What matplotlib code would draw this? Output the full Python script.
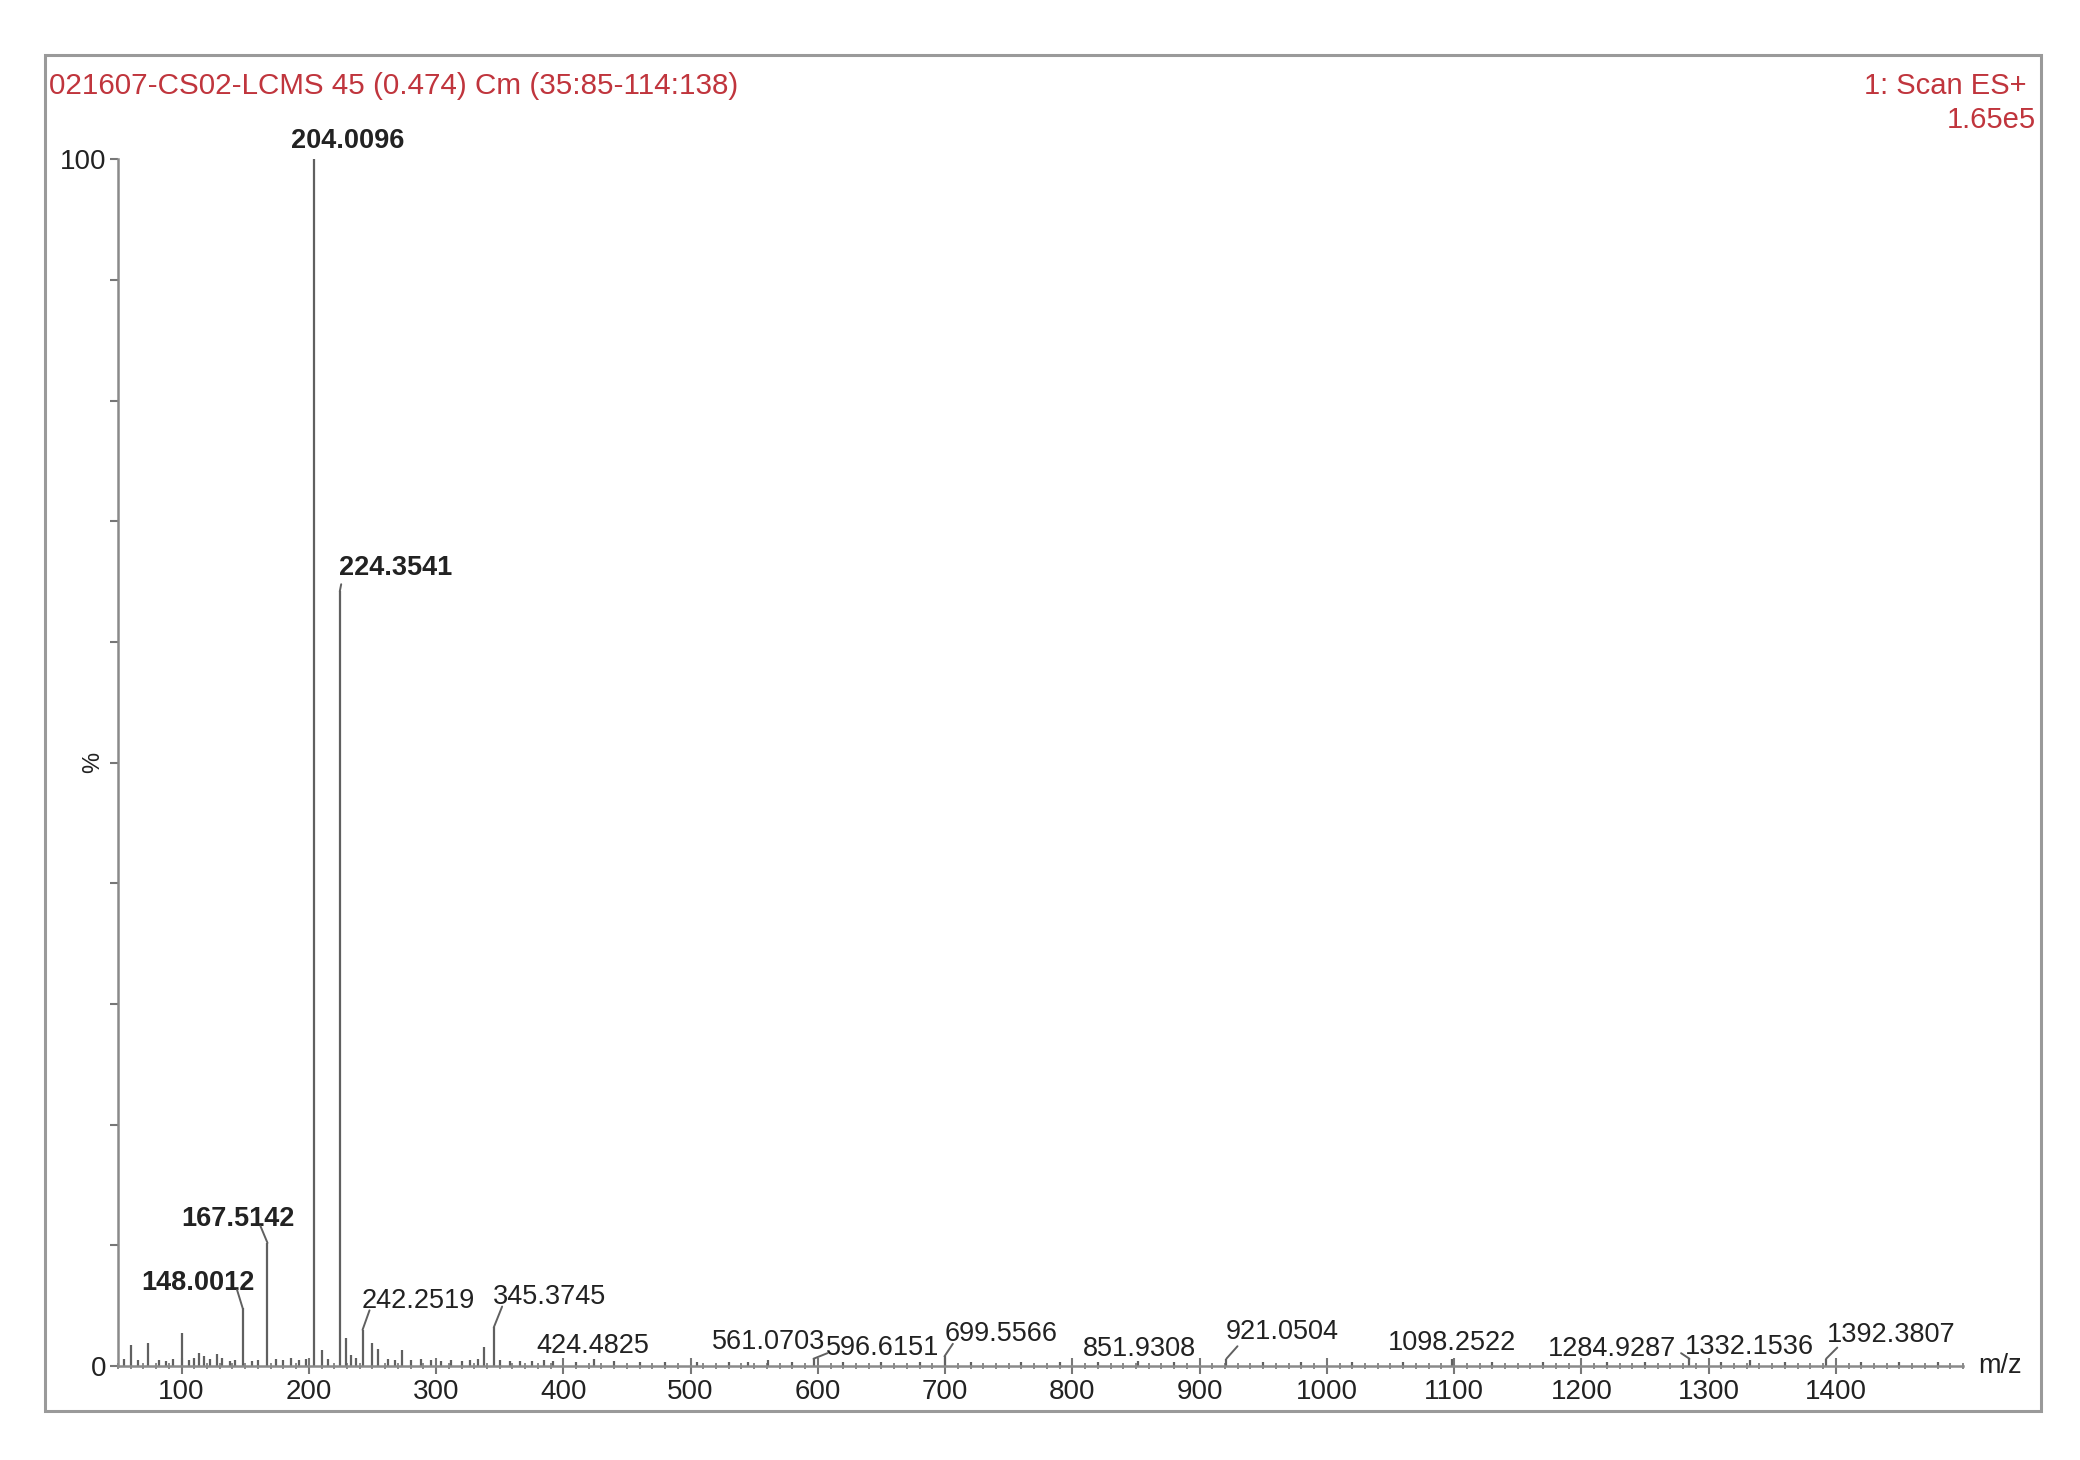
import matplotlib.pyplot as plt
from matplotlib.patches import Rectangle

plt.rcParams['font.family'] = ['Liberation Sans', 'DejaVu Sans']

title = "021607-CS02-LCMS 45 (0.474) Cm (35:85-114:138)"
scan_text = "1: Scan ES+"
base_peak = "1.65e5"

# labelled peaks: m/z and relative intensity (%)
peak_mz = [148.0012, 167.5142, 204.0096, 224.3541, 242.2519, 345.3745,
           424.4825, 561.0703, 596.6151, 699.5566, 851.9308, 921.0504,
           1098.2522, 1284.9287, 1332.1536, 1392.3807]
peak_int = [4.8, 10.2, 100.0, 64.2, 3.0, 3.2,
            0.6, 0.5, 0.6, 0.8, 0.4, 0.6,
            0.6, 0.6, 0.5, 0.6]
bold_labels = [True, True, True, True, False, False,
               False, False, False, False, False, False,
               False, False, False, False]

# unlabelled small peaks / baseline noise, read by eye
noise_mz = [55, 60, 66, 74, 82, 88, 93, 100, 106, 110, 114, 118, 122, 128,
            132, 138, 142, 155, 160, 174, 180, 186, 192, 198, 210.6, 215,
            229, 233, 237, 250, 254, 262, 268, 273, 280, 288, 296, 304, 312,
            320, 327, 333, 338, 350, 358, 366, 375, 385, 392, 410, 440, 460,
            480, 505, 530, 545, 580, 620, 650, 680, 720, 760, 790, 820, 880,
            950, 980, 1020, 1060, 1130, 1170, 1220, 1250, 1310, 1360, 1420,
            1450, 1480]
noise_int = [0.6, 1.7, 0.5, 1.9, 0.5, 0.4, 0.6, 2.7, 0.5, 0.7, 1.1, 0.8, 0.6,
             1.0, 0.7, 0.4, 0.5, 0.4, 0.5, 0.6, 0.5, 0.7, 0.5, 0.6, 1.3, 0.6,
             2.3, 0.9, 0.7, 1.9, 1.4, 0.6, 0.5, 1.3, 0.5, 0.6, 0.5, 0.4, 0.5,
             0.4, 0.5, 0.6, 1.6, 0.5, 0.4, 0.4, 0.4, 0.5, 0.4, 0.3, 0.4, 0.3,
             0.35, 0.3, 0.3, 0.35, 0.3, 0.35, 0.3, 0.3, 0.3, 0.3, 0.35, 0.3,
             0.3, 0.3, 0.3, 0.3, 0.35, 0.3, 0.3, 0.3, 0.3, 0.3, 0.3, 0.3,
             0.3, 0.3]

# label centre offsets from peak top, in points (dx, dy)
label_off = [(-32, 18), (-21, 17), (24, 13), (40, 17), (40, 21), (40, 22),
             (-1, 9), (0, 13), (50, 8), (41, 16), (1, 9), (40, 19),
             (0, 11), (-56, 7), (0, 9), (47, 17)]
# leader start offsets (points) for peaks that have a bent leader, else None
leader_off = [(-4, 13), (-5, 12), None, (1, 5), (5, 14), (6, 15),
              None, None, (10, 4), (6, 9), None, (8, 9),
              None, (-6, 4), None, (8, 8)]

red = '#c0353d'
ink = '#222222'
grey = '#606060'

fig = plt.figure(figsize=(20.8, 14.6), dpi=100)
fig.patches.append(Rectangle((0.0216, 0.0336), 0.9597, 0.9287, transform=fig.transFigure,
                             fill=False, edgecolor='#9a9a9a', linewidth=2.2))

ax = fig.add_axes([0.0567, 0.0644, 0.8871, 0.8266])
ax.set_xlim(50, 1500)
ax.set_ylim(0, 100)

ax.vlines(noise_mz, 0, noise_int, color=grey, linewidth=1.6)
ax.vlines(peak_mz, 0, peak_int, color=grey, linewidth=1.6)

for mz, h, b, (dx, dy), lo in zip(peak_mz, peak_int, bold_labels, label_off, leader_off):
    ax.annotate(f"{mz:.4f}", xy=(mz, h), xytext=(dx, dy), textcoords='offset points',
                ha='center', va='center', fontsize=19.5, color=ink,
                fontweight='bold' if b else 'normal')
    if lo is not None:
        ax.annotate('', xy=(mz, h), xytext=lo, textcoords='offset points',
                    arrowprops=dict(arrowstyle='-', color=grey, linewidth=1.4,
                                    shrinkA=0, shrinkB=0))

for s in ['top', 'right']:
    ax.spines[s].set_visible(False)
for s in ['left', 'bottom']:
    ax.spines[s].set_color('#8a8a8a')
    ax.spines[s].set_linewidth(1.8)

ax.set_xticks(range(100, 1500, 100))
ax.set_xticks(range(50, 1501, 10), minor=True)
ax.set_yticks([0, 100])
ax.set_yticks(range(10, 100, 10), minor=True)
ax.tick_params(axis='x', which='major', direction='inout', length=11, width=1.5,
               color='#777777', labelsize=20, labelcolor=ink, pad=4)
ax.tick_params(axis='x', which='minor', direction='inout', length=5, width=1.2,
               color='#777777')
ax.tick_params(axis='y', which='both', direction='out', length=6, width=1.5,
               color='#777777', labelsize=20, labelcolor=ink, pad=2)

ax.text(-0.0135, 0.5, '%', transform=ax.transAxes, rotation=90, ha='center', va='center',
        fontsize=17, color=ink)
ax.text(1.008, 0.0, 'm/z', transform=ax.transAxes, ha='left', va='center',
        fontsize=19.5, color=ink)

fig.text(0.0235, 0.941, title, ha='left', va='center', fontsize=21.3, color=red)
fig.text(0.9745, 0.941, scan_text, ha='right', va='center', fontsize=21, color=red)
fig.text(0.979, 0.918, base_peak, ha='right', va='center', fontsize=21, color=red)

fig.savefig('out.png', dpi=100)
